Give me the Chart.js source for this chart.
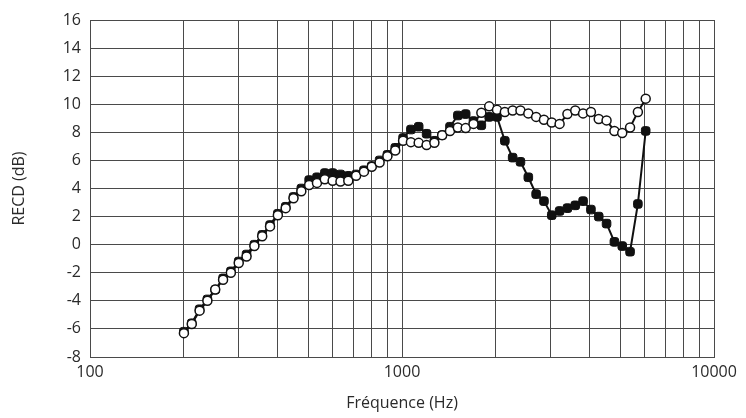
<!DOCTYPE html>
<html>
<head>
<meta charset="utf-8">
<script src="https://cdn.jsdelivr.net/npm/chart.js@4"></script>
<style>
	html, body { margin: 0; padding: 0; background: #fff; }
	#wrap { width: 746px; height: 418px; }
</style>
</head>
<body>
<div id="wrap"><canvas id="recd"></canvas></div>
<script>
// frequencies (Hz), 1/12 octave steps from 200 Hz
const freqs = [
	200, 211.9, 224.5, 237.8, 252.0, 267.0, 282.8, 299.7, 317.5, 336.4,
	356.4, 377.6, 400, 423.8, 449.0, 475.7, 504.0, 533.9, 565.7, 599.3,
	635.0, 672.7, 712.7, 755.1, 800, 847.6, 898.0, 951.4, 1008, 1068,
	1131, 1199, 1270, 1345, 1425, 1510, 1600, 1695, 1796, 1903,
	2016, 2136, 2263, 2397, 2540, 2691, 2851, 3020, 3200, 3390,
	3592, 3805, 4032, 4271, 4525, 4795, 5080, 5382, 5702, 6041
];

// open circles
const openValues = [
	-6.3, -5.65, -4.7, -4.0, -3.2, -2.5, -2.0, -1.3, -0.85, -0.1,
	0.6, 1.3, 2.1, 2.6, 3.3, 3.8, 4.25, 4.4, 4.65, 4.55,
	4.5, 4.55, 4.9, 5.2, 5.55, 5.85, 6.3, 6.7, 7.4, 7.3,
	7.25, 7.1, 7.25, 7.8, 8.1, 8.35, 8.3, 8.6, 9.4, 9.85,
	9.6, 9.45, 9.55, 9.55, 9.35, 9.1, 8.9, 8.7, 8.6, 9.3,
	9.55, 9.35, 9.45, 8.95, 8.85, 8.1, 7.95, 8.35, 9.45, 10.4
];

// filled squares
const filledValues = [
	-6.2, -5.6, -4.6, -3.9, -3.2, -2.4, -1.9, -1.2, -0.7, 0.0,
	0.7, 1.4, 2.2, 2.7, 3.4, 4.0, 4.6, 4.8, 5.1, 5.1,
	5.0, 4.9, 5.0, 5.3, 5.6, 6.0, 6.4, 6.9, 7.6, 8.2,
	8.4, 7.9, 7.4, 7.8, 8.4, 9.2, 9.3, 8.8, 8.5, 9.1,
	9.1, 7.4, 6.2, 5.9, 4.8, 3.6, 3.1, 2.1, 2.4, 2.6,
	2.8, 3.1, 2.5, 2.0, 1.5, 0.2, -0.1, -0.5, 2.9, 8.1
];

const xGrid = [100, 200, 300, 400, 500, 600, 700, 800, 900, 1000,
	2000, 3000, 4000, 5000, 6000, 7000, 8000, 9000, 10000];
const xLabels = [100, 1000, 10000];
const yMin = -8;
const yMax = 16;
const yStep = 2;

const toPoints = (values) => values.map((v, i) => ({ x: freqs[i], y: v }));

const tickFont = { family: 'Open Sans', size: 16 };
const titleFont = { family: 'Open Sans', size: 16 };
const ink = '#2a2a2a';
const gridColor = '#4a4a4a';

const chart = new Chart(document.getElementById('recd'), {
	type: 'line',
	data: {
		datasets: [
			{
				label: 'open',
				data: toPoints(openValues),
				borderColor: '#111',
				borderWidth: 2,
				pointStyle: 'circle',
				pointRadius: 4.5,
				pointBackgroundColor: '#fff',
				pointBorderColor: '#111',
				pointBorderWidth: 1.5,
			},
			{
				label: 'filled',
				data: toPoints(filledValues),
				borderColor: '#111',
				borderWidth: 2,
				pointStyle: 'rectRounded',
				pointRadius: 5,
				pointBackgroundColor: '#111',
				pointBorderColor: '#111',
				pointBorderWidth: 1,
			},
		],
	},
	options: {
		responsive: true,
		maintainAspectRatio: false,
		animation: false,
		layout: { padding: { top: 20, right: 32, bottom: 0, left: 0 } },
		plugins: { legend: { display: false }, tooltip: { enabled: false } },
		scales: {
			x: {
				type: 'logarithmic',
				min: 100,
				max: 10000,
				afterBuildTicks: (scale) => {
					scale.ticks = xGrid.map((v) => ({ value: v }));
				},
				afterFit: (scale) => {
					scale.height = 61;
				},
				grid: { color: gridColor, lineWidth: 1, drawTicks: false },
				border: { color: gridColor, width: 1 },
				ticks: {
					autoSkip: false,
					maxRotation: 0,
					padding: 6,
					color: ink,
					font: tickFont,
					callback: (value) => (xLabels.includes(value) ? String(value) : ''),
				},
				title: {
					display: true,
					text: 'Fréquence (Hz)',
					color: ink,
					font: titleFont,
					padding: { top: 0, bottom: 5 },
				},
			},
			y: {
				min: yMin,
				max: yMax,
				afterFit: (scale) => {
					scale.width = 90;
				},
				grid: { color: gridColor, lineWidth: 1, drawTicks: false },
				border: { color: gridColor, width: 1 },
				ticks: { stepSize: yStep, padding: 9, color: ink, font: tickFont },
				title: {
					display: true,
					text: 'RECD (dB)',
					color: ink,
					font: titleFont,
					padding: { top: 10, bottom: 0 },
				},
			},
		},
	},
});
</script>
</body>
</html>
